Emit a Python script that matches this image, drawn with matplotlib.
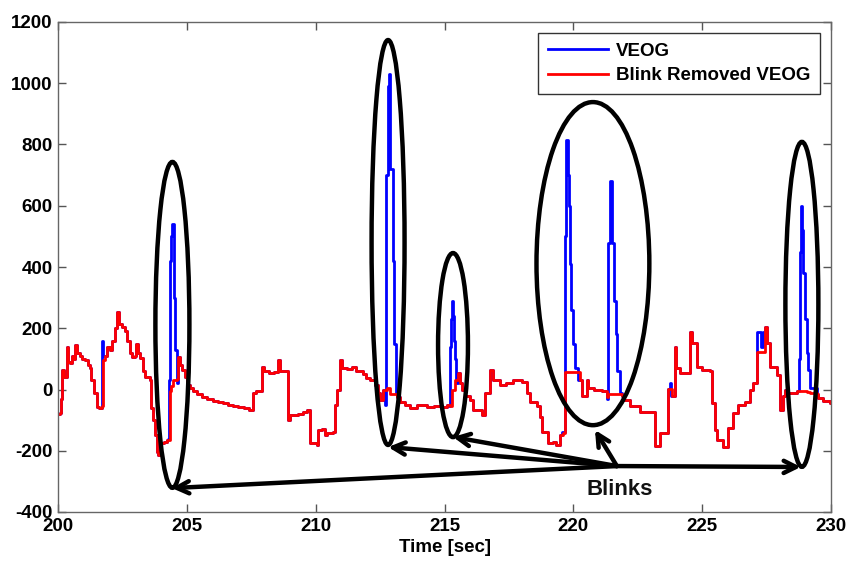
import numpy as np
import matplotlib
matplotlib.use("Agg")
import matplotlib.pyplot as plt
from matplotlib.patches import Ellipse

plt.rcParams['font.family'] = ['Liberation Sans', 'DejaVu Sans']
plt.rcParams['font.weight'] = 'bold'
plt.rcParams['axes.unicode_minus'] = False

# blink-removed VEOG, breakpoints of the step trace (time [s], amplitude)
red_t = [200.00, 200.08, 200.12, 200.16, 200.25, 200.35, 200.40, 200.47, 200.55, 200.62,
         200.66, 200.72, 200.85, 200.95, 201.05, 201.15, 201.24, 201.30, 201.40, 201.51,
         201.60, 201.71, 201.75, 201.82, 201.92, 202.02, 202.10, 202.20, 202.29, 202.36,
         202.48, 202.60, 202.68, 202.78, 202.87, 202.99, 203.03, 203.10, 203.18, 203.28,
         203.38, 203.57, 203.62, 203.69, 203.76, 203.84, 203.90, 203.96, 204.10, 204.23,
         204.35, 204.40, 204.46, 204.60, 204.66, 204.75, 204.81, 204.93, 205.01, 205.12,
         205.24, 205.40, 205.60, 205.80, 206.00, 206.20, 206.40, 206.60, 206.80, 207.00,
         207.20, 207.40, 207.57, 207.70, 207.92, 208.00, 208.20, 208.40, 208.55, 208.61,
         208.89, 208.92, 209.00, 209.30, 209.50, 209.66, 209.78, 210.05, 210.09, 210.24,
         210.36, 210.44, 210.67, 210.75, 210.83, 210.94, 211.02, 211.21, 211.41, 211.56,
         211.84, 211.95, 212.11, 212.30, 212.42, 212.50, 212.61, 212.77, 212.90, 213.16,
         213.27, 213.45, 213.66, 213.93, 214.32, 214.60, 214.90, 215.09, 215.21, 215.29,
         215.41, 215.52, 215.60, 215.68, 215.79, 215.99, 216.10, 216.45, 216.57, 216.76,
         216.88, 217.15, 217.40, 217.66, 218.00, 218.20, 218.32, 218.59, 218.70, 218.78,
         219.01, 219.21, 219.32, 219.48, 219.60, 219.66, 220.26, 220.33, 220.53, 220.57,
         220.80, 221.10, 221.30, 221.36, 221.89, 221.93, 222.20, 222.58, 223.17, 223.36,
         223.67, 223.83, 223.94, 224.00, 224.14, 224.45, 224.53, 224.60, 224.80, 224.99,
         225.30, 225.38, 225.50, 225.57, 225.81, 226.00, 226.19, 226.39, 226.66, 226.85,
         226.97, 227.12, 227.43, 227.51, 227.63, 227.90, 228.02, 228.13, 228.21, 228.29,
         228.68, 229.06, 229.18, 229.45, 229.49, 229.69, 229.96, 230.00]
red_v = [-80, -77, -30, 64, 40, 139, 90, 87, 110, 100,
         145, 120, 110, 100, 95, 80, 70, 30, -12, -57,
         -60, -55, 96, 110, 140, 130, 160, 200, 253, 215,
         204, 190, 160, 120, 106, 110, 150, 120, 103, 60,
         41, 31, -60, -100, -149, -204, -215, -175, -170, -165,
         -5, 10, 31, 35, 106, 80, 64, 40, 15, 5,
         -5, -15, -25, -30, -38, -42, -45, -50, -55, -58,
         -62, -68, -12, -5, 73, 60, 55, 58, 96, 60,
         60, -100, -83, -80, -75, -67, -175, -180, -133, -130,
         -150, -142, -140, -50, -3, 96, 70, 68, 73, 60,
         50, 38, 30, 15, -10, -34, -3, 5, -15, -25,
         -40, -50, -60, -50, -57, -55, -58, -50, -55, -3,
         30, 54, 20, -3, -20, -34, -67, -83, -12, 64,
         31, 15, 20, 31, 25, -10, -41, -55, -90, -139,
         -175, -170, -180, -150, -142, 57, 31, -21, 31, 5,
         0, -5, -25, -15, -20, -34, -54, -73, -185, -142,
         1, -20, 139, 70, 54, 54, 188, 152, 73, 64,
         60, -44, -133, -165, -188, -126, -77, -50, -41, 0,
         20, 122, 204, 152, 73, 47, -67, -20, -3, -12,
         -5, -8, -12, -15, -28, -38, -45, -45]

# raw VEOG where it differs from the cleaned trace (blinks and small jumps)
blink_segments = [
    ([201.70, 201.72, 201.76], [-55, 160, 110]),
    ([204.27, 204.31, 204.35, 204.40, 204.44, 204.50, 204.56, 204.62],
     [-160, 30, 420, 500, 540, 300, 130, 20]),
    ([212.69, 212.73, 212.81, 212.85, 212.90, 213.00, 213.04, 213.10],
     [-50, 700, 990, 1030, 720, 420, 150, -10]),
    ([215.17, 215.21, 215.27, 215.29, 215.33, 215.37, 215.41, 215.45],
     [-55, 140, 230, 290, 240, 160, 100, 20]),
    ([219.56, 219.67, 219.71, 219.79, 219.83, 219.87, 219.91, 219.97, 220.06, 220.18],
     [-140, 500, 815, 700, 600, 410, 260, 150, 70, 30]),
    ([221.32, 221.36, 221.44, 221.52, 221.59, 221.65, 221.71, 221.81],
     [-30, 480, 680, 480, 290, 180, 60, -10]),
    ([223.72, 223.75, 223.80], [1, 20, -20]),
    ([227.12, 227.20, 227.30, 227.38], [188, 188, 140, 188]),
    ([228.68, 228.74, 228.78, 228.83, 228.87, 228.91, 228.99, 229.06, 229.12, 229.20],
     [-5, 100, 450, 600, 520, 380, 230, 120, 65, 5]),
]

# circled blinks: centre (t, amplitude), width [s], height
ellipses = [
    (204.44, 211, 1.32, 1064),
    (212.81, 480, 1.28, 1322),
    (215.33, 145, 1.16, 601),
    (220.76, 411, 4.38, 1055),
    (228.87, 278, 1.28, 1061),
]
arrow_from = (221.69, -250)
arrow_to = [(204.42, -322), (212.81, -188), (215.33, -155), (220.84, -132), (228.83, -253)]

red_t = np.array(red_t)
red_v = np.array(red_v)
keep = np.ones(len(red_t), bool)
for st, sv in blink_segments:
    keep &= ~((red_t >= st[0]) & (red_t <= st[-1]))
blue_t = np.concatenate([red_t[keep]] + [np.array(s[0]) for s in blink_segments])
blue_v = np.concatenate([red_v[keep]] + [np.array(s[1]) for s in blink_segments])
order = np.argsort(blue_t, kind='stable')
blue_t, blue_v = blue_t[order], blue_v[order]

fig = plt.figure(figsize=(8.46, 5.62), dpi=100)
ax = fig.add_axes([58 / 846, 50 / 562, 773 / 846, 490 / 562])

ax.plot(blue_t, blue_v, color='#0000ff', lw=2, drawstyle='steps-post', label='VEOG')
ax.plot(red_t, red_v, color='#ff0000', lw=2, drawstyle='steps-post', label='Blink Removed VEOG')

for cx, cy, w, h in ellipses:
    ax.add_patch(Ellipse((cx, cy), w, h, fill=False, ec='black', lw=3.2, zorder=5))

for tgt in arrow_to:
    ax.annotate('', xy=tgt, xytext=arrow_from,
                arrowprops=dict(arrowstyle='->', lw=3.2, color='black',
                                mutation_scale=22, shrinkA=0, shrinkB=0),
                zorder=6)

ax.text(221.81, -328, 'Blinks', ha='center', va='center', fontsize=16,
        fontweight='bold', color='#111111', zorder=6)

ax.set_xlim(200, 230)
ax.set_ylim(-400, 1200)
ax.set_xticks(np.arange(200, 231, 5))
ax.set_yticks(np.arange(-400, 1201, 200))
ax.tick_params(direction='in', top=True, right=True, length=6, width=1,
               color='#555555', labelsize=13.5, pad=4)
for lab in ax.get_xticklabels() + ax.get_yticklabels():
    lab.set_fontweight('bold')
for sp in ax.spines.values():
    sp.set_color('#666666')
    sp.set_linewidth(1)

ax.set_xlabel('Time [sec]', fontsize=13.5, fontweight='bold', labelpad=3)

leg = ax.legend(loc='upper right', fontsize=13.5, frameon=True, fancybox=False,
                edgecolor='black', handlelength=3.2, handletextpad=0.45,
                borderaxespad=0.6, borderpad=0.5, labelspacing=0.4)
leg.get_frame().set_linewidth(1)
for t in leg.get_texts():
    t.set_fontweight('bold')

fig.savefig('out.png', dpi=100)
